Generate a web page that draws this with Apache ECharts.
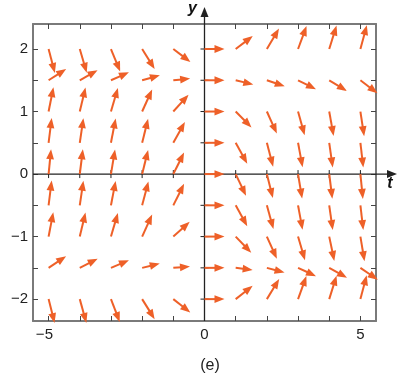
<!DOCTYPE html>
<html><head><meta charset="utf-8">
<script src="https://cdn.jsdelivr.net/npm/echarts@6/dist/echarts.min.js"></script>
<style>html,body{margin:0;padding:0;background:#fff}#c{width:405px;height:380px}</style>
</head><body><div id="c"></div>
<script>
// grid of arrow tails
const tValues = [-5, -4, -3, -2, -1, 0, 1, 2, 3, 4, 5];
const yValues = [2, 1.5, 1, 0.5, 0, -0.5, -1, -1.5, -2];
// slope dy/dt read at each grid point, one array per row (y)
const slopeY2    = [-1.9, -1.7, -1.22, -0.8, -0.38, 0, 0.38, 0.84, 1.35, 1.6, 1.85];
const slopeY1_5  = [0.32, 0.28, 0.22, 0.14, 0.05, 0, -0.12, -0.17, -0.25, -0.3, -0.38];
const slopeY1    = [2.5, 2.1, 1.7, 1.1, 0.55, 0, -0.5, -1.1, -1.8, -2.8, -3.3];
const slopeY0_5  = [4.0, 3.4, 2.6, 2.0, 0.9, 0, -0.9, -1.9, -2.7, -3.5, -4.3];
const slopeY0    = [5, 4, 3, 2, 1, 0, -1.05, -2, -3, -4, -5];
const slopeYm0_5 = [4.0, 3.4, 2.6, 1.9, 1.0, 0, -0.9, -1.8, -2.7, -3.5, -4.3];
const slopeYm1   = [2.6, 2.1, 1.7, 1.1, 0.45, 0, -0.52, -1.1, -1.7, -2.4, -3.0];
const slopeYm1_5 = [0.33, 0.25, 0.21, 0.12, 0.04, 0, -0.06, -0.13, -0.23, -0.28, -0.34];
const slopeYm2   = [-2.0, -1.8, -1.3, -0.8, -0.39, 0, 0.39, 0.82, 1.38, 1.6, 1.9];
const slopeRows = [slopeY2, slopeY1_5, slopeY1, slopeY0_5, slopeY0, slopeYm0_5, slopeYm1, slopeYm1_5, slopeYm2];

// axes
const xMin = -5.5, xMax = 5.5, yMin = -2.35, yMax = 2.4;
const xTickValues = [-5, -4, -3, -2, -1, 0, 1, 2, 3, 4, 5];
const xLabelValues = [-5, 0, 5];
const yTickValues = [-2, -1.5, -1, -0.5, 0, 0.5, 1, 1.5, 2];
const yLabelValues = [-2, -1, 0, 1, 2];
const xName = 't', yName = 'y';
const caption = '(e)';

const ORANGE = '#EE6028';
const FONT = '"Liberation Sans", Arial, sans-serif';

const arrowData = [];
slopeRows.forEach((row, i) => row.forEach((s, j) => arrowData.push([tValues[j], yValues[i], s])));

const fmt = v => v < 0 ? '\u2212' + Math.abs(v) + '\u2007' : String(v);
const fmtY = v => v < 0 ? '\u2212' + Math.abs(v) : String(v);

const frameAxis = (extra) => Object.assign({
  type: 'value', splitLine: { show: false },
  axisLine: { show: true, onZero: false, lineStyle: { color: '#7a7a7a', width: 2 } },
  axisTick: { show: true, inside: true, length: 5, lineStyle: { color: '#444', width: 1 } }
}, extra);

const chart = echarts.init(document.getElementById('c'), null, { renderer: 'canvas' });
chart.setOption({
  animation: false,
  backgroundColor: '#fff',
  grid: { left: 33, right: 29, top: 24, bottom: 59, containLabel: false },
  title: { text: caption, left: 205, top: 353, textAlign: 'center',
    textStyle: { fontFamily: FONT, fontSize: 16, fontWeight: 'normal', color: '#222' } },
  xAxis: [
    frameAxis({ position: 'bottom', min: xMin, max: xMax,
      axisTick: { show: true, inside: true, length: 5, customValues: xTickValues, lineStyle: { color: '#444', width: 1 } },
      axisLabel: { show: true, customValues: xLabelValues, formatter: fmt, margin: 6,
        fontFamily: FONT, fontSize: 15, color: '#222' } }),
    frameAxis({ position: 'top', min: xMin, max: xMax,
      axisTick: { show: true, inside: true, length: 5, customValues: xTickValues, lineStyle: { color: '#444', width: 1 } },
      axisLabel: { show: false } })
  ],
  yAxis: [
    frameAxis({ position: 'left', min: yMin, max: yMax,
      axisTick: { show: true, inside: true, length: 5, customValues: yTickValues, lineStyle: { color: '#444', width: 1 } },
      axisLabel: { show: true, customValues: yLabelValues, formatter: fmtY, margin: 5,
        fontFamily: FONT, fontSize: 15, color: '#222' } }),
    frameAxis({ position: 'right', min: yMin, max: yMax,
      axisTick: { show: true, inside: true, length: 5, customValues: yTickValues, lineStyle: { color: '#444', width: 1 } },
      axisLabel: { show: false } })
  ],
  series: [
    {
      // axes through the origin, with arrows and ticks
      type: 'custom', silent: true, z: 1,
      data: [[0, 0]],
      renderItem: function (params, api) {
        const o = api.coord([0, 0]);
        const xl = api.coord([xMin, 0])[0];
        const xr = api.coord([xMax, 0])[0];
        const yb = api.coord([0, yMin])[1];
        const yt = api.coord([0, yMax])[1];
        const c = '#222';
        const kids = [];
        const xTip = xr + 21, yTip = yt - 17;
        kids.push({ type: 'line', shape: { x1: xl, y1: o[1], x2: xTip - 6, y2: o[1] }, style: { stroke: c, lineWidth: 1.3 } });
        kids.push({ type: 'line', shape: { x1: o[0], y1: yb, x2: o[0], y2: yTip + 6 }, style: { stroke: c, lineWidth: 1.3 } });
        kids.push({ type: 'polygon', shape: { points: [[xTip, o[1]], [xTip - 10, o[1] - 4], [xTip - 10, o[1] + 4]] }, style: { fill: c } });
        kids.push({ type: 'polygon', shape: { points: [[o[0], yTip], [o[0] - 4, yTip + 10], [o[0] + 4, yTip + 10]] }, style: { fill: c } });
        xTickValues.forEach(v => {
          if (v === 0) return;
          const p = api.coord([v, 0]);
          kids.push({ type: 'line', shape: { x1: p[0], y1: p[1] - 4, x2: p[0], y2: p[1] + 4 }, style: { stroke: c, lineWidth: 1 } });
        });
        yTickValues.forEach(v => {
          if (v === 0) return;
          const p = api.coord([0, v]);
          kids.push({ type: 'line', shape: { x1: p[0] - 4, y1: p[1], x2: p[0] + 4, y2: p[1] }, style: { stroke: c, lineWidth: 1 } });
        });
        kids.push({ type: 'text', x: xTip - 7, y: o[1] + 10, style: { text: xName, font: 'italic bold 16px ' + FONT, fill: '#111', textAlign: 'center', textVerticalAlign: 'middle' } });
        kids.push({ type: 'text', x: o[0] - 12, y: yTip + 2, style: { text: yName, font: 'italic bold 16px ' + FONT, fill: '#111', textAlign: 'center', textVerticalAlign: 'middle' } });
        return { type: 'group', children: kids };
      }
    },
    {
      // direction-field arrows
      type: 'custom', silent: true, z: 2,
      data: arrowData,
      renderItem: function (params, api) {
        const t = api.value(0), y = api.value(1), s = api.value(2);
        const p0 = api.coord([t, y]);
        const p1 = api.coord([t + 1, y + s]);
        let dx = p1[0] - p0[0], dy = p1[1] - p0[1];
        const d = Math.hypot(dx, dy); dx /= d; dy /= d;
        const L = t === 0 ? 20 : 16 + 9 * Math.abs(dy);
        const tip = [p0[0] + dx * L, p0[1] + dy * L];
        const hl = 10, hw = 3.9;
        const base = [tip[0] - dx * hl, tip[1] - dy * hl];
        const nx = -dy, ny = dx;
        return { type: 'group', children: [
          { type: 'line', shape: { x1: p0[0], y1: p0[1], x2: base[0] + dx * 2, y2: base[1] + dy * 2 }, style: { stroke: ORANGE, lineWidth: 2 } },
          { type: 'polygon', shape: { points: [tip, [base[0] + nx * hw, base[1] + ny * hw], [base[0] - nx * hw, base[1] - ny * hw]] }, style: { fill: ORANGE } }
        ] };
      }
    }
  ]
});
</script>
</body></html>
